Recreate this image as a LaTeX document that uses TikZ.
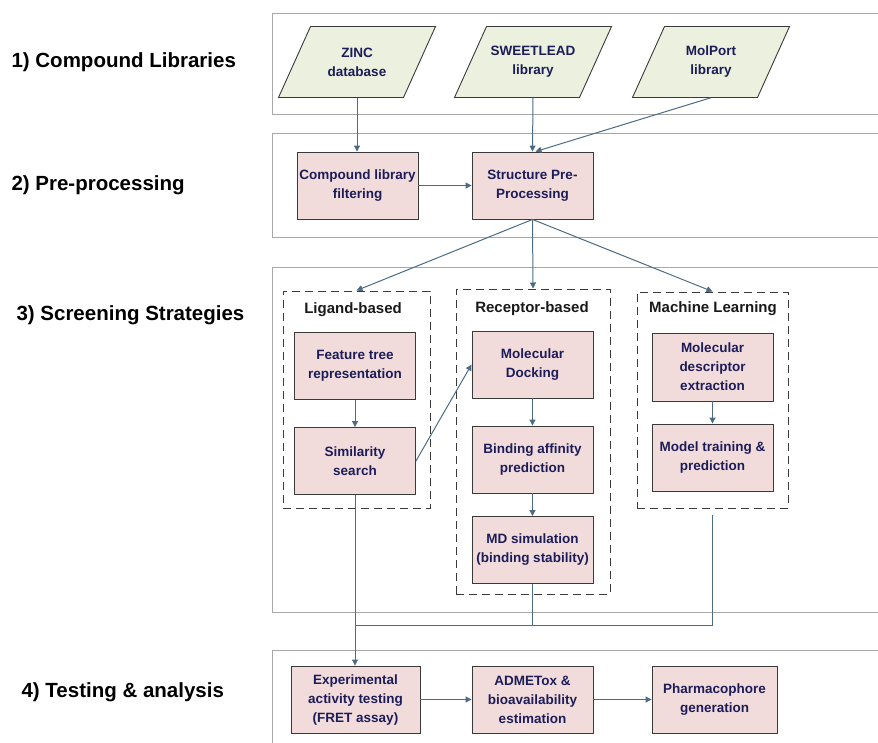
\documentclass[tikz,border=0pt]{standalone}
\usepackage{fontspec}
\setmainfont{Liberation Sans}
\usetikzlibrary{arrows.meta,calc,backgrounds}

\definecolor{pinkfill}{HTML}{F2DCDB}
\definecolor{greenfill}{HTML}{EBF1DE}
\definecolor{boxtext}{HTML}{1C1C58}
\definecolor{connc}{HTML}{4D6B82}
\definecolor{bandc}{HTML}{A8A8A8}
\definecolor{edgec}{HTML}{3A3A3A}

\tikzset{
  band/.style={draw=bandc, line width=0.9pt},
  stepbox/.style={draw=edgec, fill=pinkfill, line width=0.9pt, minimum width=121pt,
    minimum height=67pt, align=center, text=boxtext, inner sep=2pt,
    font=\fontsize{13.5}{19}\selectfont\bfseries},
  libbox/.style={minimum width=125pt, minimum height=71pt, align=center, text=boxtext,
    inner sep=1pt, font=\fontsize{13.5}{19}\selectfont\bfseries},
  libshape/.style={draw=edgec, fill=greenfill, line width=0.9pt, line join=miter},
  groupbox/.style={draw=edgec, dashed, dash pattern=on 8pt off 5pt, line width=1pt},
  grouptitle/.style={text=black!90, font=\fontsize{15}{18}\selectfont\bfseries},
  stagelabel/.style={anchor=west, text=black, font=\fontsize{20.5}{24}\selectfont\bfseries},
  conn/.style={draw=connc, line width=1pt},
  arrowc/.style={conn, -{Triangle[length=6pt,width=6pt]}}
}

% slanted outline (parallelogram) round a library node
\newcommand\libframe[1]{%
  \filldraw[libshape] ($(#1.center)+(-78.5,35.5)$) -- ($(#1.center)+(46.5,35.5)$)
    -- ($(#1.center)+(78.5,-35.5)$) -- ($(#1.center)+(-46.5,-35.5)$) -- cycle;}

\begin{document}
\begin{tikzpicture}[x=1pt, y=-1pt]
\useasboundingbox (0,0) rectangle (878,742);

% stage bands
\draw[band] (272,13) rectangle (882,114);
\draw[band] (272,133) rectangle (882,237);
\draw[band] (272,267) rectangle (882,612);
\draw[band] (272,650) rectangle (882,746);

% stage labels
\node[stagelabel] (s1) at (8,62) {1) Compound Libraries};
\node[stagelabel] (s2) at (8,185) {2) Pre-processing};
\node[stagelabel] (s3) at (13,315) {3) Screening Strategies};
\node[stagelabel] (s4) at (18,692) {4) Testing \& analysis};

% compound libraries
\node[libbox] (zinc) at (357,62) {ZINC\\database};
\node[libbox] (sweet) at (533,62) {SWEETLEAD\\library};
\node[libbox] (molport) at (711,62) {MolPort\\library};
\begin{scope}[on background layer]
  \libframe{zinc}
  \libframe{sweet}
  \libframe{molport}
\end{scope}

% pre-processing
\node[stepbox] (filt) at (357.5,185.5) {Compound library\\filtering};
\node[stepbox] (pre) at (532.5,185.5) {Structure Pre-\\Processing};

% screening strategy groups
\node[groupbox, minimum width=147pt, minimum height=217pt] (lig) at (356.5,399.5) {};
\node[groupbox, minimum width=154pt, minimum height=305pt] (rec) at (533,441.5) {};
\node[groupbox, minimum width=151pt, minimum height=216pt] (ml) at (712.5,400) {};
\node[grouptitle] (ligt) at (353,310) {Ligand-based};
\node[grouptitle] (rect) at (532,309) {Receptor-based};
\node[grouptitle] (mlt) at (713,309) {Machine Learning};

\node[stepbox] (feat) at (355,366) {Feature tree\\representation};
\node[stepbox] (sim) at (355,461) {Similarity\\search};
\node[stepbox] (dock) at (532.5,364.5) {Molecular\\Docking};
\node[stepbox] (bind) at (532.5,459.5) {Binding affinity\\prediction};
\node[stepbox] (md) at (532.5,550) {MD simulation\\(binding stability)};
\node[stepbox, minimum height=68pt] (desc) at (712.5,367) {Molecular\\descriptor\\extraction};
\node[stepbox] (model) at (712.5,457.5) {Model training \&\\prediction};

% testing and analysis
\node[stepbox, minimum width=129pt] (exp) at (355.5,699.5) {Experimental\\activity testing\\(FRET assay)};
\node[stepbox] (adme) at (532.5,699.5) {ADMETox \&\\bioavailability\\estimation};
\node[stepbox, minimum width=125pt] (phar) at (714.5,699.5) {Pharmacophore\\generation};

% connectors
\draw[arrowc] (zinc.south) -- (zinc.south |- filt.north);
\draw[arrowc] (sweet.south) -- (pre.north);
\draw[arrowc] (molport.south) -- ($(pre.north)+(3,0)$);
\draw[arrowc] (filt.east) -- (pre.west);
\draw[arrowc] (pre.south) -- (lig.north);
\draw[arrowc] (pre.south) -- (rec.north);
\draw[arrowc] (pre.south) -- (ml.north);
\draw[arrowc] (feat.south) -- (sim.north);
\draw[arrowc] (sim.east) -- (dock.west);
\draw[arrowc] (dock.south) -- (bind.north);
\draw[arrowc] (bind.south) -- (md.north);
\draw[arrowc] (desc.south) -- (model.north);

\coordinate (jy) at (0,625);
\draw[conn] (md.south) -- (md.south |- jy);
\draw[conn, shorten <=6pt] (ml.south) -- (ml.south |- jy) -- (sim.south |- jy);
\draw[arrowc] (sim.south) -- (sim.south |- exp.north);
\draw[arrowc] (exp.east) -- (adme.west);
\draw[arrowc] (adme.east) -- (phar.west);
\end{tikzpicture}
\end{document}
